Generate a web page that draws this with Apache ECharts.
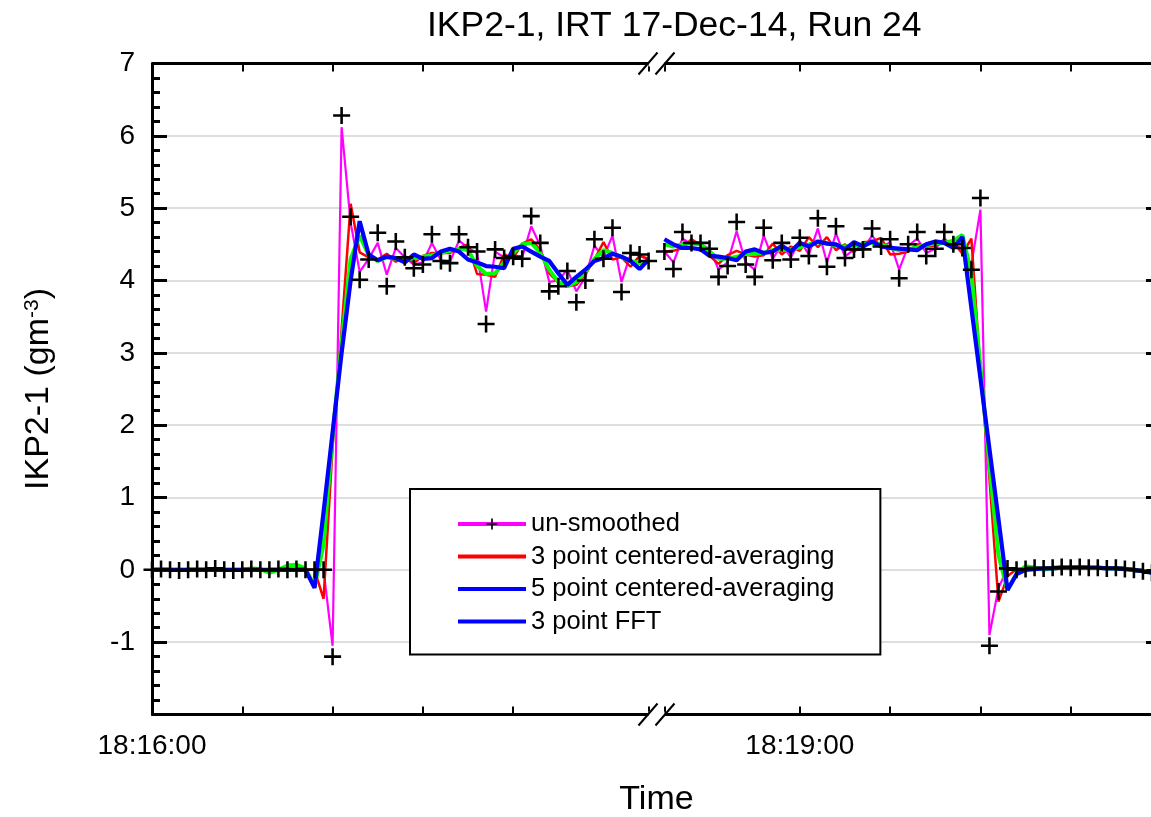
<!DOCTYPE html>
<html>
<head>
<meta charset="utf-8">
<script src="https://cdn.jsdelivr.net/npm/echarts@6/dist/echarts.min.js"></script>
<style>
html, body { margin: 0; padding: 0; background: #ffffff; }
#chart { width: 1151px; height: 817px; }
</style>
</head>
<body>
<div id="chart"></div>
<script>
// ---------------- data ----------------
const chartTitle = 'IKP2-1, IRT 17-Dec-14, Run 24';
const yAxisTitle = '{a|IKP2-1 (gm}{s|-3}{a|)}';
const xAxisTitle = 'Time';
const seriesNames = ['un-smoothed', '3 point centered-averaging', '5 point centered-averaging', '3 point FFT'];

const axisMin = '18:16:00';
const axisMax = '18:20:20';
const tickStepSec = 20;
const labelledTicks = ['18:16:00', '18:19:00'];
const breakStart = '18:17:50';
const breakEnd = '18:18:30';
const breakGapSec = 3.5;
const yMin = -2, yMax = 7, yStep = 1;

// samples every 2 s
const sampleStepSec = 2;
const leftStart = '18:16:00';
const rightStart = '18:18:30';

// un-smoothed samples (markers)
const rawLeft = [
  0.00, 0.01, 0.00, -0.01, 0.00, 0.01, 0.00, 0.02, 0.00, -0.01,
  0.00, 0.01, 0.00, 0.00, 0.01, 0.00, 0.01, 0.00, 0.00, 0.00,
  -1.20, 6.28, 4.88, 4.01, 4.29, 4.66, 3.92, 4.54, 4.32, 4.17,
  4.22, 4.64, 4.27, 4.24, 4.64, 4.46, 4.40, 3.40, 4.43, 4.31,
  4.33, 4.30, 4.89, 4.52, 3.85, 3.92, 4.13, 3.70, 4.00, 4.57,
  4.30, 4.73, 3.84, 4.38, 4.36, 4.27
];
const rawRight = [
  4.40, 4.16, 4.67, 4.52, 4.52, 4.44, 4.05, 4.20, 4.81, 4.22,
  4.05, 4.73, 4.28, 4.52, 4.29, 4.59, 4.34, 4.86, 4.19, 4.75,
  4.31, 4.43, 4.43, 4.72, 4.47, 4.57, 4.03, 4.50, 4.67, 4.34,
  4.44, 4.67, 4.50, 4.45, 4.15, 5.14, -1.05, -0.30, 0.02, 0.00,
  0.01, 0.03, 0.02, 0.03, 0.04, 0.03, 0.04, 0.03, 0.03, 0.02,
  0.03, 0.01, 0.00, -0.02, -0.04
];

// un-smoothed line (magenta)
const magentaLeft = [
  0.00, 0.01, 0.00, -0.01, 0.00, 0.01, 0.00, 0.02, 0.00, -0.01,
  0.00, 0.01, 0.00, 0.00, 0.01, 0.00, 0.01, 0.00, 0.00, 0.00,
  -1.05, 6.12, 4.80, 4.12, 4.30, 4.52, 4.08, 4.45, 4.32, 4.22,
  4.25, 4.52, 4.28, 4.26, 4.55, 4.45, 4.38, 3.57, 4.40, 4.32,
  4.33, 4.32, 4.75, 4.48, 3.98, 4.00, 4.15, 3.85, 4.05, 4.48,
  4.32, 4.62, 3.98, 4.36, 4.35, 4.28
];
const magentaRight = [
  4.40, 4.25, 4.58, 4.50, 4.50, 4.44, 4.15, 4.25, 4.68, 4.25,
  4.15, 4.62, 4.30, 4.50, 4.32, 4.55, 4.36, 4.72, 4.25, 4.65,
  4.33, 4.43, 4.43, 4.62, 4.46, 4.53, 4.15, 4.48, 4.58, 4.38,
  4.44, 4.58, 4.48, 4.45, 4.22, 4.98, -0.90, -0.25, 0.02, 0.00,
  0.01, 0.03, 0.02, 0.03, 0.04, 0.03, 0.04, 0.03, 0.03, 0.02,
  0.03, 0.01, 0.00, -0.02, -0.04
];

// 3 point centered-averaging (red)
const redLeft = [
  0.00, 0.00, 0.00, 0.00, 0.00, 0.00, 0.01, 0.01, 0.00, 0.00,
  0.00, 0.00, 0.01, 0.00, 0.00, 0.01, 0.00, 0.00, 0.00, -0.40,
  1.69, 3.32, 5.06, 4.39, 4.32, 4.29, 4.37, 4.26, 4.34, 4.24,
  4.34, 4.38, 4.38, 4.38, 4.45, 4.50, 4.09, 4.08, 4.05, 4.36,
  4.31, 4.51, 4.57, 4.42, 4.10, 3.97, 3.92, 3.94, 4.09, 4.29,
  4.53, 4.29, 4.32, 4.19, 4.34, 4.30
];
const redRight = [
  4.40, 4.41, 4.45, 4.57, 4.49, 4.34, 4.23, 4.35, 4.41, 4.36,
  4.33, 4.35, 4.51, 4.36, 4.47, 4.41, 4.60, 4.46, 4.60, 4.42,
  4.50, 4.39, 4.53, 4.54, 4.59, 4.36, 4.37, 4.40, 4.50, 4.48,
  4.48, 4.54, 4.54, 4.37, 4.58, 2.75, 1.26, -0.44, -0.09, 0.01,
  0.02, 0.02, 0.02, 0.03, 0.03, 0.04, 0.03, 0.03, 0.03, 0.03,
  0.02, 0.01, 0.00, -0.02, -0.03
];

// 5 point centered-averaging (green)
const greenLeft = [
  0.00, 0.00, 0.00, 0.00, 0.00, 0.00, 0.00, 0.01, 0.00, 0.00,
  0.00, 0.02, 0.01, -0.04, 0.00, 0.06, 0.07, 0.02, -0.23, 0.35,
  1.85, 3.15, 4.30, 4.62, 4.35, 4.27, 4.32, 4.30, 4.30, 4.30,
  4.33, 4.35, 4.38, 4.41, 4.44, 4.42, 4.20, 4.09, 4.10, 4.25,
  4.38, 4.50, 4.52, 4.38, 4.15, 3.98, 3.92, 3.98, 4.12, 4.30,
  4.42, 4.38, 4.32, 4.27, 4.24, 4.26
];
const greenRight = [
  4.50, 4.47, 4.50, 4.52, 4.50, 4.40, 4.30, 4.30, 4.33, 4.36,
  4.37, 4.38, 4.42, 4.42, 4.43, 4.46, 4.50, 4.53, 4.52, 4.48,
  4.47, 4.48, 4.50, 4.52, 4.50, 4.45, 4.42, 4.43, 4.46, 4.49,
  4.51, 4.52, 4.55, 4.63, 4.10, 2.80, 1.45, 0.20, -0.28, -0.05,
  0.05, 0.03, 0.00, 0.02, 0.03, 0.03, 0.04, 0.03, 0.03, 0.02,
  0.02, 0.01, 0.00, -0.02, -0.04
];

// 3 point FFT (blue)
const blueLeft = [
  0.00, 0.00, 0.00, 0.00, 0.00, 0.00, 0.00, 0.00, 0.00, 0.00,
  0.00, 0.00, 0.00, 0.00, 0.00, 0.00, 0.00, 0.00, -0.25, 0.80,
  1.90, 3.00, 4.00, 4.82, 4.36, 4.28, 4.33, 4.31, 4.25, 4.36,
  4.30, 4.31, 4.40, 4.44, 4.40, 4.29, 4.25, 4.20, 4.19, 4.17,
  4.44, 4.47, 4.40, 4.33, 4.27, 4.10, 3.94, 4.05, 4.15, 4.27,
  4.31, 4.37, 4.33, 4.27, 4.16, 4.29
];
const blueRight = [
  4.57, 4.50, 4.45, 4.45, 4.43, 4.34, 4.33, 4.31, 4.28, 4.40,
  4.43, 4.38, 4.40, 4.48, 4.40, 4.52, 4.47, 4.54, 4.51, 4.50,
  4.43, 4.53, 4.47, 4.54, 4.47, 4.45, 4.44, 4.43, 4.42, 4.50,
  4.54, 4.52, 4.45, 4.60, 3.62, 2.65, 1.67, 0.70, -0.28, -0.06,
  0.00, 0.01, 0.02, 0.02, 0.03, 0.03, 0.03, 0.03, 0.03, 0.02,
  0.02, 0.01, 0.00, -0.02, -0.04
];

// ---------------- helpers ----------------
function toSec(s) { const p = s.split(':').map(Number); return p[0] * 3600 + p[1] * 60 + p[2]; }
function fmtTime(sec) {
  const h = Math.floor(sec / 3600), m = Math.floor((sec % 3600) / 60), s = Math.round(sec % 60);
  const pad = n => (n < 10 ? '0' : '') + n;
  return pad(h) + ':' + pad(m) + ':' + pad(s);
}
function segment(start, vals) {
  const t0 = toSec(start);
  return vals.map((v, i) => [t0 + i * sampleStepSec, v]);
}
const gapPoint = [(toSec(breakStart) + toSec(breakEnd)) / 2, '-'];
function lineData(l, r) { return segment(leftStart, l).concat([gapPoint], segment(rightStart, r)); }

const FONT = 'Liberation Sans, Arial, Helvetica, sans-serif';
const plusPath = 'path://M6.8,0L9.2,0L9.2,6.8L16,6.8L16,9.2L9.2,9.2L9.2,16L6.8,16L6.8,9.2L0,9.2L0,6.8L6.8,6.8Z';
const barIcon = 'path://M0,0L68,0L68,4L0,4Z';

const xBase = {
  type: 'value',
  min: toSec(axisMin),
  max: toSec(axisMax),
  interval: tickStepSec,
  breaks: [{ start: toSec(breakStart), end: toSec(breakEnd), gap: breakGapSec }],
  breakArea: { show: false, expandOnClick: false },
  axisLine: { show: true, onZero: false, lineStyle: { color: '#000', width: 3 } },
  axisTick: { show: true, inside: true, length: 8, lineStyle: { color: '#000', width: 2 } },
  splitLine: { show: false },
};

const yBase = {
  type: 'value',
  min: yMin, max: yMax, interval: yStep,
  axisLine: { show: true, onZero: false, lineStyle: { color: '#000', width: 3 } },
  axisTick: { show: true, inside: true, length: 15, lineStyle: { color: '#000', width: 3 } },
  minorTick: { show: true, splitNumber: 5, length: 8, lineStyle: { color: '#000', width: 3 } },
};

const chart = echarts.init(document.getElementById('chart'), null, { renderer: 'canvas' });

const option = {
  animation: false,
  backgroundColor: '#ffffff',
  title: {
    text: chartTitle,
    left: 422, top: 3,
    textStyle: { fontFamily: FONT, fontSize: 35.5, fontWeight: 'normal', color: '#000' }
  },
  grid: { left: 152, right: -10, top: 63.5, bottom: 102.5, containLabel: false, outerBoundsMode: 'none' },
  legend: {
    orient: 'vertical',
    left: 410, top: 489,
    padding: [22, 46, 20, 46],
    borderColor: '#000', borderWidth: 2,
    backgroundColor: '#fff',
    itemWidth: 68, itemHeight: 14, itemGap: 6.5,
    selectedMode: false,
    textStyle: { fontFamily: FONT, fontSize: 25.5, color: '#000', lineHeight: 26 },
    data: [
      { name: seriesNames[0], lineStyle: { width: 4 } },
      { name: seriesNames[1], icon: barIcon },
      { name: seriesNames[2], icon: barIcon, itemStyle: { color: '#0000ff' } },
      { name: seriesNames[3], icon: barIcon }
    ]
  },
  xAxis: [
    Object.assign({}, xBase, {
      position: 'bottom',
      axisLabel: {
        show: true, margin: 18, fontFamily: FONT, fontSize: 28, color: '#000',
        formatter: v => (labelledTicks.indexOf(fmtTime(v)) >= 0 ? fmtTime(v) : '')
      },
      name: xAxisTitle, nameLocation: 'middle', nameGap: 68,
      nameTextStyle: { fontFamily: FONT, fontSize: 34, color: '#000' }
    }),
    Object.assign({}, xBase, { position: 'top', axisLabel: { show: false } })
  ],
  yAxis: [
    Object.assign({}, yBase, {
      position: 'left',
      axisLabel: {
        show: true, margin: 17, fontFamily: FONT, fontSize: 28, color: '#000',
        showMinLabel: false,
        formatter: v => (v === yMin ? '' : String(v))
      },
      splitLine: { show: true, lineStyle: { color: '#d3d3d3', width: 1.5 } },
      name: yAxisTitle, nameLocation: 'middle', nameGap: 96,
      nameTextStyle: {
        fontFamily: FONT, fontSize: 34, color: '#000',
        rich: {
          a: { fontFamily: FONT, fontSize: 34, color: '#000' },
          s: { fontFamily: FONT, fontSize: 21, color: '#000', verticalAlign: 'top' }
        }
      }
    }),
    Object.assign({}, yBase, {
      position: 'right',
      axisLabel: { show: false },
      splitLine: { show: false }
    })
  ],
  series: [
    {
      name: seriesNames[0], type: 'line', data: lineData(magentaLeft, magentaRight),
      symbol: plusPath, showSymbol: false, symbolSize: 14,
      lineStyle: { color: '#ff00ff', width: 2.2 }, itemStyle: { color: '#000' },
      connectNulls: false, z: 2
    },
    {
      name: seriesNames[1], type: 'line', data: lineData(redLeft, redRight),
      symbol: 'none', lineStyle: { color: '#ff0000', width: 2.5 }, itemStyle: { color: '#ff0000' },
      connectNulls: false, z: 3
    },
    {
      name: seriesNames[2], type: 'line', data: lineData(greenLeft, greenRight),
      symbol: 'none', lineStyle: { color: '#00ff00', width: 4 }, itemStyle: { color: '#00ff00' },
      connectNulls: false, z: 4
    },
    {
      name: seriesNames[3], type: 'line', data: lineData(blueLeft, blueRight),
      symbol: 'none', lineStyle: { color: '#0000ff', width: 4.2 }, itemStyle: { color: '#0000ff' },
      connectNulls: false, z: 5
    },
    {
      name: 'un-smoothed samples', type: 'scatter',
      data: segment(leftStart, rawLeft).concat(segment(rightStart, rawRight)),
      symbol: plusPath, symbolSize: 17, itemStyle: { color: '#000', opacity: 1 }, z: 6, silent: true
    }
  ]
};

chart.setOption(option);

// axis-break marks ("//") on top and bottom axis lines
function drawBreakMarks() {
  const xa = chart.convertToPixel({ xAxisIndex: 0 }, toSec(breakStart));
  const xb = chart.convertToPixel({ xAxisIndex: 0 }, toSec(breakEnd));
  const cx = (xa + xb) / 2;
  const yTop = chart.convertToPixel({ yAxisIndex: 0 }, yMax);
  const yBot = chart.convertToPixel({ yAxisIndex: 0 }, yMin);
  const els = [];
  [yTop, yBot].forEach(y => {
    els.push({ type: 'rect', shape: { x: cx - 8, y: y - 3, width: 16, height: 6 }, style: { fill: '#fff' }, z: 100 });
    els.push({ type: 'line', shape: { x1: cx - 18, y1: y + 11, x2: cx + 1, y2: y - 11 }, style: { stroke: '#000', lineWidth: 2 }, z: 101 });
    els.push({ type: 'line', shape: { x1: cx - 1, y1: y + 11, x2: cx + 18, y2: y - 11 }, style: { stroke: '#000', lineWidth: 2 }, z: 101 });
  });
  chart.setOption({ graphic: els });
}
drawBreakMarks();
</script>
</body>
</html>
